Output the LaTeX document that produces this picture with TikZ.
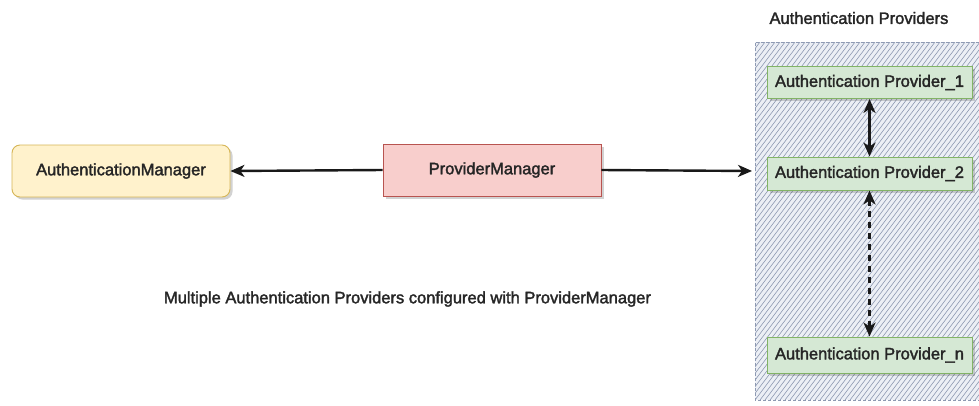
\documentclass[tikz,border=0pt]{standalone}
\usepackage{fontspec}
\setmainfont{Liberation Sans}
\newfontfamily\lblfont{Liberation Sans}[FakeBold=2]
\usetikzlibrary{arrows.meta,shadows}
\definecolor{amfill}{HTML}{FFF2CC}
\definecolor{amdraw}{HTML}{D6B656}
\definecolor{pmfill}{HTML}{F8CECC}
\definecolor{pmdraw}{HTML}{B85450}
\definecolor{apfill}{HTML}{D5E8D4}
\definecolor{apdraw}{HTML}{82B366}
\definecolor{hatchcol}{HTML}{8793AD}
\definecolor{groupfill}{HTML}{ECEFF5}
\definecolor{groupdraw}{HTML}{8E9AB3}
\definecolor{txt}{HTML}{262626}
\tikzset{
  lbl/.style={font=\lblfont\fontsize{16.5}{19}\selectfont, text=txt},
  shade3/.style={drop shadow={shadow xshift=2.5pt, shadow yshift=-2.5pt, opacity=0.25, fill=black!70}},
  mgrbox/.style={lbl, draw, line width=0.9pt, minimum width=218pt, minimum height=52pt, inner sep=0pt, shade3},
  provbox/.style={lbl, draw=apdraw, fill=apfill, line width=0.9pt, minimum width=205pt, minimum height=32pt, inner sep=0pt, shade3},
  conn/.style={line width=2.4pt, black!90},
  tip/.style={-{Stealth[length=14pt, width=12pt, inset=4pt]}},
  tips/.style={{Stealth[length=14pt, width=12pt, inset=4pt]}-{Stealth[length=14pt, width=12pt, inset=4pt]}},
  hatch/.style={line width=0.55pt, hatchcol},
}
\begin{document}
\begin{tikzpicture}[x=1pt, y=-1pt]
  \useasboundingbox (0,0) rectangle (979,405);
  \fill[white] (0,0) rectangle (979,405);

  % provider group: hatched container
  \begin{scope}
    \clip (755,42) rectangle (979,400);
    \fill[groupfill] (755,42) rectangle (979,400);
    \foreach \x in {480,485,...,990} {
      \draw[hatch] (\x,400) -- ++(270,-358);
    }
  \end{scope}
  \draw[groupdraw, line width=1pt, dash pattern=on 3pt off 2pt] (979,42) -- (755,42) -- (755,400) -- (979,400);
  \node[lbl, anchor=west] (grouptitle) at (766,18) {Authentication Providers};

  % managers
  \node[mgrbox, draw=amdraw, fill=amfill, rounded corners=8pt] (am) at (121,171) {AuthenticationManager};
  \node[mgrbox, draw=pmdraw, fill=pmfill] (pm) at (492,170) {ProviderManager};

  % providers
  \node[provbox] (p1) at (869.5,82.5) {Authentication Provider\_1};
  \node[provbox, minimum height=33pt] (p2) at (869.5,173.5) {Authentication Provider\_2};
  \node[provbox, minimum height=36pt] (pn) at (869.5,355) {Authentication Provider\_n};

  \coordinate (groupin) at (752,171);

  % connectors
  \draw[conn, tip] (pm.west) -- (am.east);
  \draw[conn, tip] (pm.east) -- (groupin);
  \draw[conn, tips] (p1.south) -- (p2.north);
  \draw[conn, tips, dash pattern=on 6pt off 5pt] (p2.south) -- (pn.north);

  % caption
  \node[lbl] (caption) at (407.5,299) {Multiple Authentication Providers configured with ProviderManager};
\end{tikzpicture}
\end{document}
